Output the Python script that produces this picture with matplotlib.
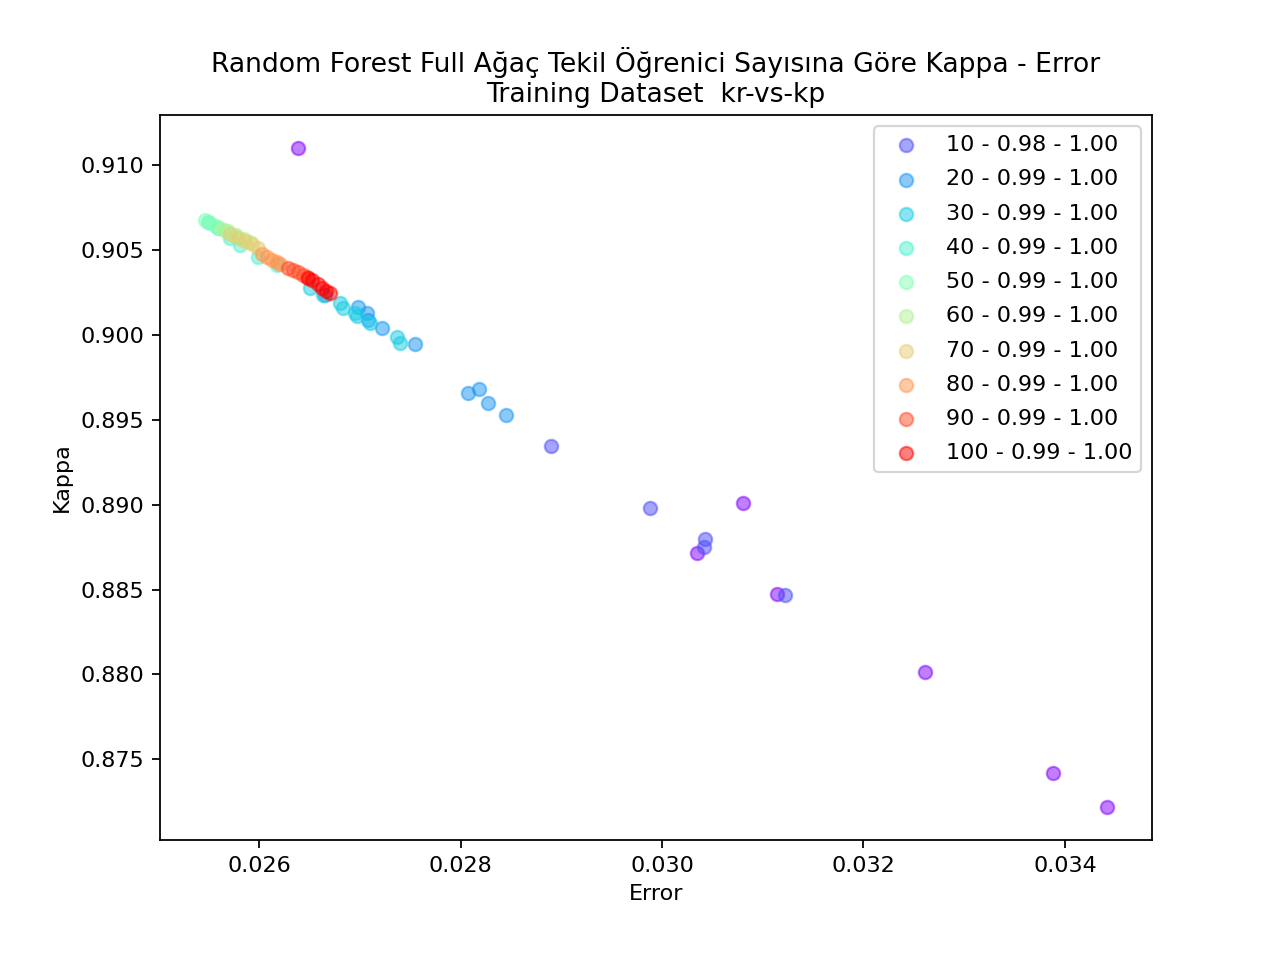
import numpy as np
import matplotlib
matplotlib.use("Agg")
import matplotlib.pyplot as plt
from matplotlib import cm

# tree counts and legend min/max values
tree_counts = [10, 20, 30, 40, 50, 60, 70, 80, 90, 100]
min_vals = [0.98, 0.99, 0.99, 0.99, 0.99, 0.99, 0.99, 0.99, 0.99, 0.99]
max_vals = [1.00, 1.00, 1.00, 1.00, 1.00, 1.00, 1.00, 1.00, 1.00, 1.00]

# first run (no legend entry)
err_first = [0.026387, 0.030347, 0.030804, 0.031141, 0.032610, 0.033881, 0.034417]
kap_first = [0.91100, 0.88715, 0.89009, 0.88474, 0.88014, 0.87419, 0.87219]

err_10 = [0.028898, 0.029881, 0.030427, 0.030417, 0.031221]
kap_10 = [0.89345, 0.88980, 0.88797, 0.88750, 0.88468]

err_20 = [0.026655, 0.026983, 0.027072, 0.027082, 0.027221, 0.027548,
          0.028074, 0.028184, 0.028273, 0.028452]
kap_20 = [0.90234, 0.90164, 0.90128, 0.90087, 0.90040, 0.89946,
          0.89657, 0.89681, 0.89598, 0.89528]

err_30 = [0.026506, 0.026635, 0.026804, 0.026834, 0.026953, 0.026973,
          0.027102, 0.027370, 0.027400]
kap_30 = [0.90276, 0.90234, 0.90187, 0.90158, 0.90128, 0.90111,
          0.90070, 0.89987, 0.89952]

err_40 = [0.025494, 0.025593, 0.025712, 0.025811, 0.025990, 0.026179]
kap_40 = [0.90664, 0.90629, 0.90570, 0.90529, 0.90458, 0.90411]

err_50 = [0.025464, 0.025514, 0.025573, 0.025672, 0.025762]
kap_50 = [0.90676, 0.90658, 0.90641, 0.90611, 0.90582]

err_60 = [0.025633, 0.025692, 0.025772, 0.025851, 0.025911]
kap_60 = [0.90623, 0.90611, 0.90588, 0.90564, 0.90547]

err_70 = [0.025712, 0.025792, 0.025861, 0.025931, 0.025990]
kap_70 = [0.90594, 0.90570, 0.90552, 0.90535, 0.90511]

err_80 = [0.026030, 0.026079, 0.026129, 0.026179, 0.026208]
kap_80 = [0.90476, 0.90458, 0.90441, 0.90429, 0.90417]

err_90 = [0.026288, 0.026337, 0.026387, 0.026437, 0.026476]
kap_90 = [0.90393, 0.90382, 0.90370, 0.90352, 0.90340]

err_100 = [0.026486, 0.026526, 0.026586, 0.026625, 0.026665, 0.026705]
kap_100 = [0.90335, 0.90323, 0.90299, 0.90276, 0.90258, 0.90246]

errors = [err_10, err_20, err_30, err_40, err_50, err_60, err_70, err_80, err_90, err_100]
kappas = [kap_10, kap_20, kap_30, kap_40, kap_50, kap_60, kap_70, kap_80, kap_90, kap_100]

colors = cm.rainbow(np.linspace(0, 1, len(tree_counts) + 1))

fig = plt.figure(figsize=(8, 6), dpi=160)
ax = fig.add_subplot(111)
fig.subplots_adjust(bottom=0.125)

ax.scatter(err_first, kap_first, color=colors[0], alpha=0.5)
for i, n in enumerate(tree_counts):
    label = "%d - %.2f - %.2f" % (n, min_vals[i], max_vals[i])
    ax.scatter(errors[i], kappas[i], color=colors[i + 1], alpha=0.5, label=label)

ax.set_title("Random Forest Full Ağaç Tekil Öğrenici Sayısına Göre Kappa - Error\nTraining Dataset  kr-vs-kp")
ax.set_xlabel("Error")
ax.set_ylabel("Kappa")
ax.legend(loc="upper right", labelspacing=0.64)

plt.savefig("out.png")
